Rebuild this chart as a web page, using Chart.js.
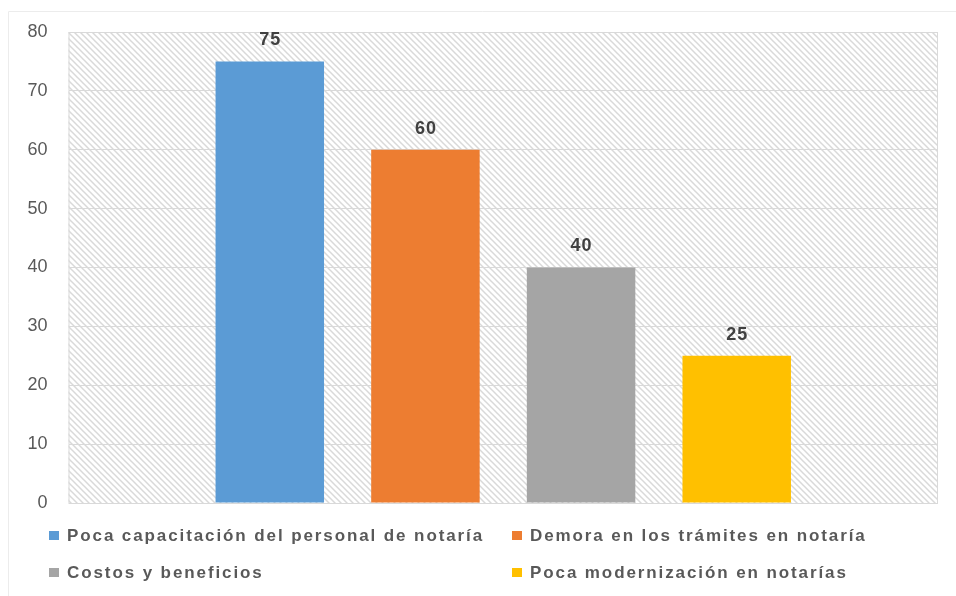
<!DOCTYPE html>
<html>
<head>
<meta charset="utf-8">
<script src="https://cdn.jsdelivr.net/npm/chart.js@4.4.1/dist/chart.umd.min.js"></script>
<style>
  html, body { margin: 0; padding: 0; background: #fff; }
  #wrap { width: 956px; height: 596px; }
</style>
</head>
<body>
<div id="wrap"><canvas id="barChart"></canvas></div>
<script>
const seriesNames = [
    'Poca capacitación del personal de notaría',
    'Demora en los trámites en notaría',
    'Costos y beneficios',
    'Poca modernización en notarías'
];
const seriesValues = [75, 60, 40, 25];
const seriesColors = ['#5B9BD5', '#ED7D31', '#A5A5A5', '#FFC000'];
const yTicks = [0, 10, 20, 30, 40, 50, 60, 70, 80];

// diagonal hatch for the plot background
function makeHatch() {
    const c = document.createElement('canvas');
    c.width = 6; c.height = 6;
    const g = c.getContext('2d');
    g.fillStyle = '#fff';
    g.fillRect(0, 0, 6, 6);
    g.strokeStyle = '#d9d9d9';
    g.lineWidth = 1.5;
    g.beginPath();
    g.moveTo(-1, -1); g.lineTo(7, 7);
    g.moveTo(-1, 5); g.lineTo(1, 7);
    g.moveTo(5, -1); g.lineTo(7, 1);
    g.stroke();
    return g.createPattern(c, 'repeat');
}

const backdrop = {
    id: 'backdrop',
    beforeDraw(chart) {
        const { ctx, chartArea: a } = chart;
        ctx.save();
        ctx.strokeStyle = '#ececec';
        ctx.lineWidth = 1;
        ctx.beginPath();
        ctx.moveTo(8.5, 596); ctx.lineTo(8.5, 11.5); ctx.lineTo(956, 11.5);
        ctx.stroke();
        ctx.fillStyle = makeHatch();
        ctx.fillRect(a.left, a.top, a.right - a.left, a.bottom - a.top);
        ctx.restore();
    },
    afterDatasetsDraw(chart) {
        const { ctx, chartArea: a } = chart;
        ctx.save();
        ctx.strokeStyle = '#d9d9d9';
        ctx.lineWidth = 1;
        ctx.strokeRect(a.left + 0.5, a.top + 0.5, a.right - a.left - 1, a.bottom - a.top);
        // value labels
        ctx.fillStyle = '#404040';
        ctx.font = 'bold 18px "Liberation Sans", Arial, sans-serif';
        ctx.letterSpacing = '1px';
        ctx.textAlign = 'center';
        ctx.textBaseline = 'middle';
        chart.data.datasets.forEach((ds, i) => {
            chart.getDatasetMeta(i).data.forEach((bar, j) => {
                ctx.fillText(String(ds.data[j]), bar.x + 0.5, bar.y - 21);
            });
        });
        // legend in two columns
        ctx.font = 'bold 17px "Liberation Sans", Arial, sans-serif';
        ctx.letterSpacing = '1.9px';
        ctx.textAlign = 'left';
        const cols = [49, 512];
        const rows = [535, 572];
        chart.data.datasets.forEach((ds, i) => {
            const x = cols[i % 2];
            const y = rows[Math.floor(i / 2)];
            ctx.fillStyle = ds.backgroundColor;
            ctx.fillRect(x, y - 4, 10, 9);
            ctx.fillStyle = '#595959';
            ctx.fillText(ds.label, x + 18, y + 1);
        });
        ctx.restore();
    }
};

const ctx = document.getElementById('barChart').getContext('2d');
const barChart = new Chart(ctx, {
    type: 'bar',
    data: {
        labels: [''],
        datasets: seriesNames.map((name, i) => ({
            label: name,
            data: [seriesValues[i]],
            backgroundColor: seriesColors[i],
            borderWidth: 0
        }))
    },
    options: {
        responsive: true,
        maintainAspectRatio: false,
        animation: false,
        categoryPercentage: 0.716,
        barPercentage: 0.697,
        layout: { padding: { top: 32, right: 18, bottom: 93, left: 0 } },
        scales: {
            x: { display: false },
            y: {
                min: 0,
                max: 80,
                afterBuildTicks: (scale) => { scale.ticks = yTicks.map(v => ({ value: v })); },
                afterFit: (scale) => { scale.width = 68.5; },
                border: { display: false },
                grid: { color: '#d9d9d9', drawTicks: false },
                ticks: {
                    padding: 21,
                    color: '#595959',
                    font: { family: '"Liberation Sans", Arial, sans-serif', size: 18 }
                }
            }
        },
        plugins: {
            legend: { display: false },
            tooltip: { enabled: false }
        }
    },
    plugins: [backdrop]
});
</script>
</body>
</html>
